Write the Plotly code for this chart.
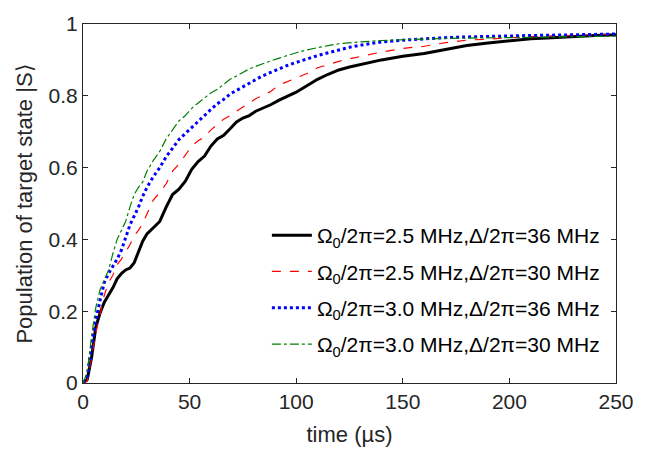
import plotly.graph_objects as go

t = [0, 2, 4, 6, 8, 10, 12, 14, 16, 18, 20, 22, 24, 26, 28, 30, 33, 36, 39, 42, 45, 48, 51, 54, 57,
     60, 63, 66, 69, 72, 75, 78, 81, 84, 88, 92, 96, 100, 105, 110, 115, 120, 125, 130, 140, 150,
     160, 170, 180, 190, 200, 210, 220, 230, 240, 250]

black_25_36 = [0, 0.01, 0.07, 0.155, 0.195, 0.225, 0.245, 0.265, 0.29, 0.305, 0.315, 0.32, 0.335, 0.365,
               0.395, 0.415, 0.432, 0.45, 0.49, 0.525, 0.54, 0.562, 0.595, 0.617, 0.632, 0.66, 0.68,
               0.69, 0.708, 0.727, 0.738, 0.745, 0.757, 0.765, 0.775, 0.788, 0.798, 0.81, 0.828,
               0.846, 0.86, 0.872, 0.88, 0.887, 0.90, 0.91, 0.918, 0.929, 0.94, 0.947, 0.954, 0.959,
               0.962, 0.966, 0.968, 0.97]

red_25_30 = [0, 0.005, 0.07, 0.14, 0.19, 0.245, 0.28, 0.30, 0.33, 0.345, 0.365, 0.385, 0.41, 0.425,
             0.445, 0.47, 0.51, 0.53, 0.555, 0.59, 0.61, 0.635, 0.66, 0.675, 0.685, 0.705, 0.72,
             0.735, 0.745, 0.757, 0.77, 0.782, 0.792, 0.80, 0.812, 0.83, 0.84, 0.85, 0.862, 0.878,
             0.888, 0.896, 0.903, 0.91, 0.922, 0.932, 0.938, 0.948, 0.955, 0.958, 0.962, 0.965,
             0.967, 0.968, 0.97, 0.972]

blue_30_36 = [0, 0.02, 0.1, 0.175, 0.23, 0.28, 0.305, 0.325, 0.345, 0.37, 0.405, 0.44, 0.465, 0.49,
              0.52, 0.545, 0.575, 0.6, 0.63, 0.655, 0.678, 0.695, 0.712, 0.73, 0.747, 0.762, 0.778,
              0.79, 0.805, 0.815, 0.826, 0.836, 0.846, 0.855, 0.865, 0.876, 0.885, 0.893, 0.903,
              0.912, 0.92, 0.928, 0.935, 0.941, 0.95, 0.955, 0.959, 0.962, 0.964, 0.966, 0.967,
              0.968, 0.969, 0.97, 0.971, 0.972]

green_30_30 = [0, 0.03, 0.13, 0.21, 0.26, 0.29, 0.315, 0.36, 0.40, 0.425, 0.45, 0.49, 0.525, 0.545,
               0.56, 0.59, 0.62, 0.645, 0.68, 0.705, 0.73, 0.745, 0.765, 0.78, 0.795, 0.808, 0.818,
               0.832, 0.846, 0.855, 0.865, 0.875, 0.882, 0.889, 0.897, 0.905, 0.913, 0.92, 0.928,
               0.935, 0.94, 0.945, 0.948, 0.95, 0.954, 0.957, 0.958, 0.96, 0.961, 0.962, 0.963,
               0.964, 0.964, 0.965, 0.965, 0.966]

names = [
    "Ω<sub>0</sub>/2π=2.5 MHz,Δ/2π=36 MHz",
    "Ω<sub>0</sub>/2π=2.5 MHz,Δ/2π=30 MHz",
    "Ω<sub>0</sub>/2π=3.0 MHz,Δ/2π=36 MHz",
    "Ω<sub>0</sub>/2π=3.0 MHz,Δ/2π=30 MHz",
]
series = [black_25_36, red_25_30, blue_30_36, green_30_30]
styles = [
    dict(color="black", width=3, dash="solid"),
    dict(color="#ff0000", width=1.2, dash="dash"),
    dict(color="#0000ff", width=3, dash="dot"),
    dict(color="#008000", width=1.2, dash="dashdot"),
]

xticks = [0, 50, 100, 150, 200, 250]
yticks = [0, 0.2, 0.4, 0.6, 0.8, 1]
yticklabels = ["0", "0.2", "0.4", "0.6", "0.8", "1"]

FONT = "Liberation Sans, Arial, sans-serif"

fig = go.Figure()
for i, (nm, ys, st) in enumerate(zip(names, series, styles)):
    fig.add_trace(go.Scatter(x=t, y=ys, mode="lines", name=nm, line=st,
                             legendgroup=f"g{i}"))

axis_common = dict(
    showline=True, linecolor="#262626", linewidth=1, mirror="ticks",
    ticks="inside", ticklen=5, tickcolor="#262626", showgrid=False, zeroline=False,
    tickfont=dict(family=FONT, size=21, color="#262626"),
)

fig.update_layout(
    width=648, height=456,
    margin=dict(l=83, r=32, t=15, b=73),
    paper_bgcolor="white", plot_bgcolor="white",
    font=dict(family=FONT, size=21, color="#262626"),
    xaxis=dict(range=[0, 250], tickvals=xticks,
               title=dict(text="time (µs)", font=dict(size=22), standoff=14),
               **axis_common),
    yaxis=dict(range=[0, 1], tickvals=yticks, ticktext=yticklabels,
               title=dict(text="Population of target state |S⟩", font=dict(size=22), standoff=9),
               **axis_common),
    legend=dict(x=0.345, y=0.468, xanchor="left", yanchor="top",
                bgcolor="rgba(255,255,255,0)", borderwidth=0,
                font=dict(family=FONT, size=21, color="black"),
                tracegroupgap=6, itemwidth=40),
    showlegend=True,
)

fig.write_html("out.html", config={"displayModeBar": False},
               post_script="document.body.style.margin='0';")
